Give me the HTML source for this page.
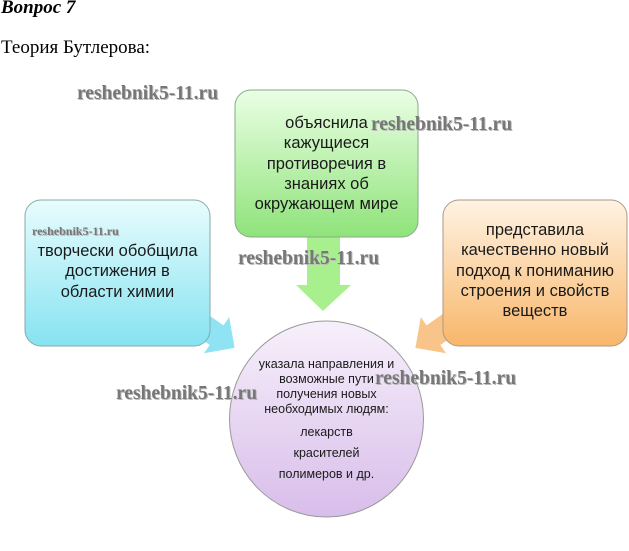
<!DOCTYPE html>
<html><head><meta charset="utf-8">
<style>
html,body{margin:0;padding:0;background:#fff;}
body{width:629px;height:551px;position:relative;overflow:hidden;font-family:"Liberation Sans","DejaVu Sans",sans-serif;}
.t{position:absolute;white-space:nowrap;}
.c{position:absolute;text-align:center;color:#1a1a1a;font-family:"Liberation Sans",sans-serif;white-space:nowrap;}
.wm{position:absolute;font-family:"Liberation Serif",serif;font-weight:bold;color:#777;white-space:nowrap;text-shadow:1px 1px 0 #bbb;}
</style></head><body>
<svg width="629" height="551" style="position:absolute;left:0;top:0">
<defs>
<linearGradient id="gg" x1="0" y1="0" x2="0" y2="1"><stop offset="0" stop-color="#eaffe4"/><stop offset="1" stop-color="#8fe37a"/></linearGradient>
<linearGradient id="bg" x1="0" y1="0" x2="0" y2="1"><stop offset="0" stop-color="#e8fcfd"/><stop offset="1" stop-color="#86e3f1"/></linearGradient>
<linearGradient id="og" x1="0" y1="0" x2="0" y2="1"><stop offset="0" stop-color="#fff3e3"/><stop offset="1" stop-color="#f8b66a"/></linearGradient>
<linearGradient id="pg" x1="0" y1="0" x2="0" y2="1"><stop offset="0" stop-color="#f7f0fb"/><stop offset="1" stop-color="#d8bdea"/></linearGradient>
</defs>
<polygon points="307,237 340,237 340,285 351,285 323,311 296,285 307,285" fill="#a8f08e"/>
<g transform="translate(192,318) rotate(35)"><polygon points="0,-12 30,-12 30,-22 52,0 30,22 30,12 0,12" fill="#8fe3f3"/></g>
<g transform="translate(458,318) rotate(145)"><polygon points="0,-12 30,-12 30,-22 52,0 30,22 30,12 0,12" fill="#f8c48a"/></g>
<rect x="25" y="200" width="185" height="146" rx="16" fill="url(#bg)" stroke="#8aa" stroke-width="1"/>
<rect x="235" y="90" width="183" height="147" rx="16" fill="url(#gg)" stroke="#8a8" stroke-width="1"/>
<rect x="443" y="200" width="184" height="146" rx="16" fill="url(#og)" stroke="#a98" stroke-width="1"/>
<ellipse cx="326.5" cy="419" rx="97" ry="98" fill="url(#pg)" stroke="#999" stroke-width="1"/>
</svg>
<div class="t" style="left:1px;top:-3px;font-family:'Liberation Serif',serif;font-weight:bold;font-style:italic;font-size:19px;">Вопрос 7</div>
<div class="t" style="left:1px;top:37px;font-family:'Liberation Serif',serif;font-size:19px;">Теория Бутлерова:</div>

<div class="c" style="left:235px;top:113px;width:183px;font-size:16.5px;line-height:20.3px;">объяснила<br>кажущиеся<br>противоречия в<br>знаниях об<br>окружающем мире</div>
<div class="c" style="left:25px;top:241px;width:185px;font-size:16.5px;line-height:20.3px;">творчески обобщила<br>достижения в<br>области химии</div>
<div class="c" style="left:443px;top:220px;width:184px;font-size:16.5px;line-height:20.3px;">представила<br>качественно новый<br>подход к пониманию<br>строения и свойств<br>веществ</div>
<div class="c" style="left:229px;top:357px;width:195px;font-size:12.5px;line-height:15px;">указала направления и<br>возможные пути<br>получения новых<br>необходимых людям:</div>
<div class="c" style="left:229px;top:422px;width:195px;font-size:12.5px;line-height:20.8px;">лекарств<br>красителей<br>полимеров и др.</div>

<div class="wm" style="left:77px;top:83px;font-size:19.5px;">reshebnik5-11.ru</div>
<div class="wm" style="left:371px;top:114px;font-size:19.5px;">reshebnik5-11.ru</div>
<div class="wm" style="left:238px;top:248px;font-size:19.5px;">reshebnik5-11.ru</div>
<div class="wm" style="left:375px;top:368px;font-size:19.5px;">reshebnik5-11.ru</div>
<div class="wm" style="left:116px;top:383px;font-size:19.5px;">reshebnik5-11.ru</div>
<div class="wm" style="left:32px;top:224px;font-size:12px;">reshebnik5-11.ru</div>
</body></html>
